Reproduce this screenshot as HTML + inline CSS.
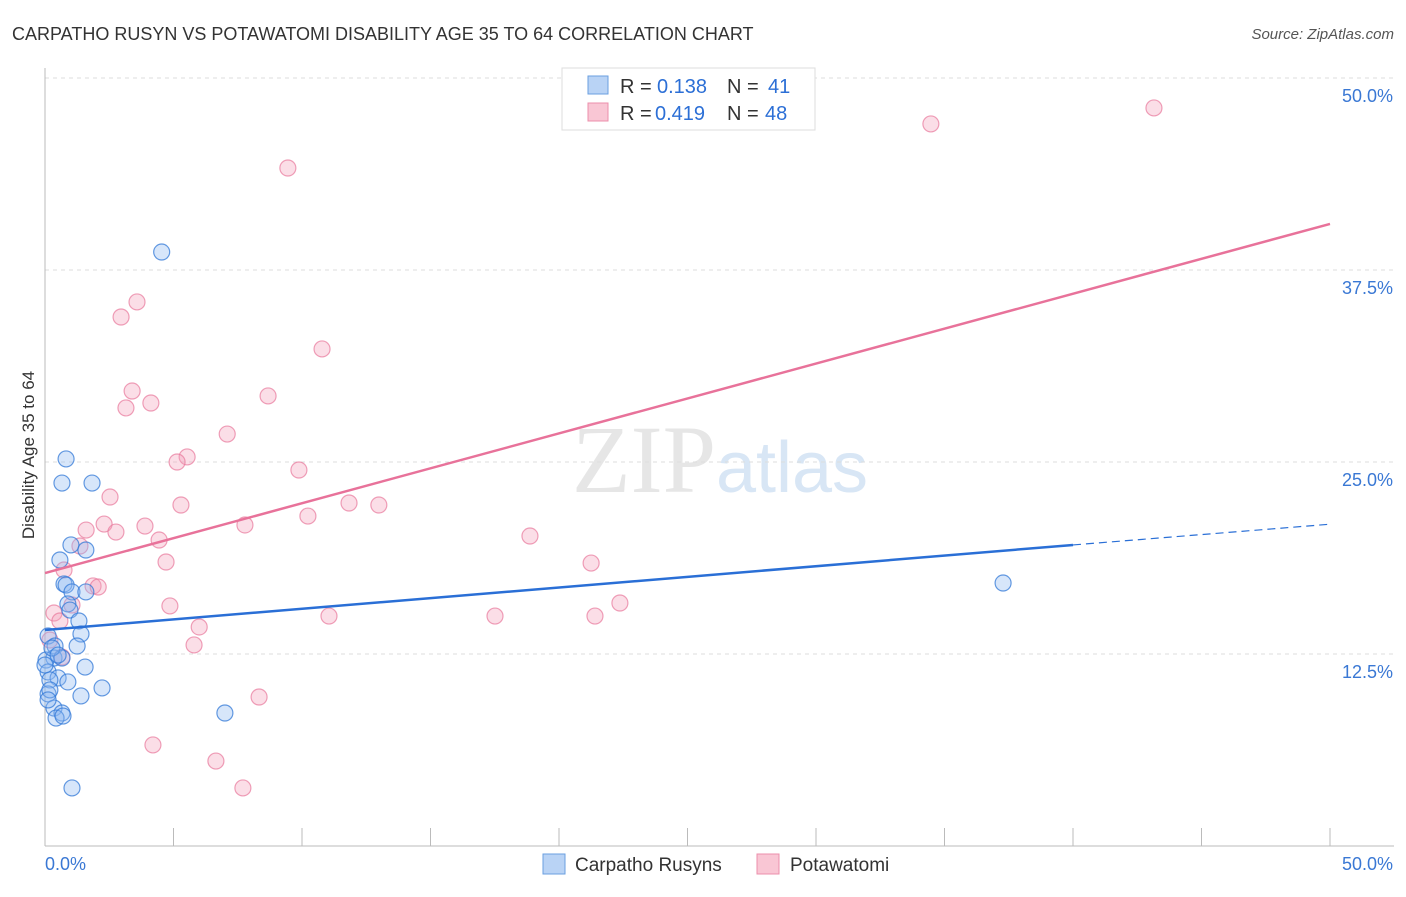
<!DOCTYPE html>
<html><head><meta charset="utf-8"><style>
body{margin:0;background:#fff;font-family:"Liberation Sans",sans-serif;}
</style></head><body>
<svg width="1406" height="892" xmlns="http://www.w3.org/2000/svg">
<text x="12" y="40" font-size="18" fill="#333">CARPATHO RUSYN VS POTAWATOMI DISABILITY AGE 35 TO 64 CORRELATION CHART</text>
<text x="1394" y="39" font-size="15" fill="#555" font-style="italic" text-anchor="end">Source: ZipAtlas.com</text>
<text x="720" y="492" font-size="96" fill="#e6e6e6" text-anchor="middle" font-family="Liberation Serif">ZIP<tspan fill="#d8e6f5" font-family="Liberation Sans" font-size="72">atlas</tspan></text>
<g id="grid"></g>
<g id="axes"></g>
<g id="pts"></g>
<g id="lines"></g>
<text transform="translate(34,455) rotate(-90)" font-size="17" fill="#333" text-anchor="middle">Disability Age 35 to 64</text>
<g>
<rect x="562" y="68" width="253" height="62" fill="#fff" stroke="#ddd"/>
<rect x="588" y="76" width="20" height="18" fill="#b9d3f5" stroke="#6a9fe0"/>
<rect x="588" y="103" width="20" height="18" fill="#f9c6d4" stroke="#ec8fab"/>
<text x="620" y="93" font-size="20" fill="#333">R =</text><text x="657" y="93" font-size="20" fill="#2c6fd6">0.138</text>
<text x="727" y="93" font-size="20" fill="#333">N =</text><text x="768" y="93" font-size="20" fill="#2c6fd6">41</text>
<text x="620" y="120" font-size="20" fill="#333">R =</text><text x="655" y="120" font-size="20" fill="#2c6fd6">0.419</text>
<text x="727" y="120" font-size="20" fill="#333">N =</text><text x="765" y="120" font-size="20" fill="#2c6fd6">48</text>
</g>
<g>
<rect x="543" y="854" width="22" height="20" fill="#b9d3f5" stroke="#6a9fe0"/>
<text x="575" y="871" font-size="19" fill="#333">Carpatho Rusyns</text>
<rect x="757" y="854" width="22" height="20" fill="#f9c6d4" stroke="#ec8fab"/>
<text x="790" y="871" font-size="19" fill="#333">Potawatomi</text>
</g>
</svg>
<script>
const xTicks=[0,5,10,15,20,25,30,35,40,45,50];
const yTicks=[12.5,25,37.5,50];
const blueX=[4.54,0.82,0.66,1.83,1.01,1.59,0.58,0.74,0.82,1.05,1.59,0.89,0.97,1.32,1.40,0.12,1.25,0.39,0.35,0.66,0.04,1.56,0.12,0.51,0.89,0.19,2.22,0.12,1.40,0.35,0.66,0.43,0.70,7.00,1.05,37.28,0.19,0.0,0.27,0.51,0.12];
const blueY=[38.67,25.20,23.63,23.63,19.60,19.27,18.62,17.06,16.99,16.54,16.54,15.76,15.36,14.65,13.80,13.67,13.02,13.02,12.24,12.24,12.11,11.65,11.33,10.94,10.68,10.81,10.29,9.90,9.77,8.98,8.66,8.33,8.46,8.66,3.78,17.12,10.16,11.78,12.89,12.43,9.51];
const pinkX=[43.15,34.47,9.45,3.58,2.96,10.78,3.39,4.12,3.15,8.68,7.09,5.53,5.14,9.88,2.53,5.29,11.83,12.99,10.23,1.60,2.30,2.76,3.89,7.78,18.87,1.36,4.44,4.71,21.25,0.74,1.87,2.07,1.05,4.86,0.35,0.58,11.05,17.51,21.40,22.37,6.00,5.80,8.33,4.20,6.65,7.70,0.19,0.66];
const pinkY=[48.05,47.01,44.14,35.42,34.44,32.36,29.62,28.84,28.52,29.30,26.82,25.33,25.0,24.48,22.72,22.20,22.33,22.20,21.48,20.57,20.96,20.44,20.83,20.90,20.18,19.53,19.92,18.49,18.42,17.97,16.93,16.86,15.69,15.63,15.17,14.65,14.97,14.97,14.97,15.82,14.26,13.09,9.70,6.58,5.53,3.78,13.41,12.30];
const blueLine=[14.06,19.6,20.95]; // values at x=0,40,50
const pinkLine=[17.77,40.5];
const ns="http://www.w3.org/2000/svg";
const X=v=>45+v/50*1285, Y=v=>846-v/12.5*192;
function mk(t,a,p){const e=document.createElementNS(ns,t);for(const k in a)e.setAttribute(k,a[k]);document.getElementById(p).appendChild(e);return e;}
yTicks.forEach(t=>{
 const l=mk('line',{x1:45,x2:1394,y1:Y(t),y2:Y(t),stroke:'#ddd','stroke-dasharray':'4,4'},'grid');
 
 
 const tx=mk('text',{x:1393,y:Y(t)+24,'font-size':18,fill:'#3a78d4','text-anchor':'end'},'grid');
 tx.textContent=t.toFixed(1)+'%';
 
 
});
let a=mk('line',{x1:45,x2:45,y1:68,y2:846,stroke:'#bbb'},'axes');

a=mk('line',{x1:45,x2:1394,y1:846,y2:846,stroke:'#bbb'},'axes');

xTicks.forEach(t=>{const l=mk('line',{x1:X(t),x2:X(t),y1:828,y2:846,stroke:'#bbb'},'axes');
 
 });
[[0,'start'],[50,'end']].forEach(([t,an])=>{const tx=mk('text',{x:an=='start'?45:1393,y:870,'font-size':18,fill:'#3a78d4','text-anchor':an},'axes');tx.textContent=t.toFixed(1)+'%';
 
 });
pinkX.forEach((v,i)=>{const c=mk('circle',{cx:X(v),cy:Y(pinkY[i]),r:8,fill:'rgba(244,160,187,0.35)',stroke:'rgba(232,120,155,0.7)','stroke-width':1.2},'pts');
 
 });
blueX.forEach((v,i)=>{const c=mk('circle',{cx:X(v),cy:Y(blueY[i]),r:8,fill:'rgba(140,184,240,0.35)',stroke:'rgba(50,120,215,0.75)','stroke-width':1.2},'pts');
 
 });
let l=mk('line',{x1:X(0),y1:Y(blueLine[0]),x2:X(40),y2:Y(blueLine[1]),stroke:'#2a6fd6','stroke-width':2.5},'lines');

l=mk('line',{x1:X(40),y1:Y(blueLine[1]),x2:X(50),y2:Y(blueLine[2]),stroke:'#2a6fd6','stroke-width':1.2,'stroke-dasharray':'8,5'},'lines');

l=mk('line',{x1:X(0),y1:Y(pinkLine[0]),x2:X(50),y2:Y(pinkLine[1]),stroke:'#e8729a','stroke-width':2.5},'lines');

</script>
</body></html>
